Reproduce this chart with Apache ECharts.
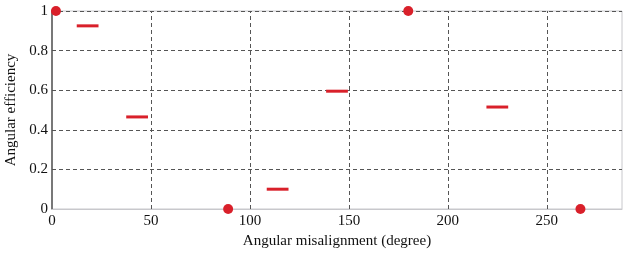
<!DOCTYPE html>
<html>
<head>
<meta charset="utf-8">
<script src="https://cdn.jsdelivr.net/npm/echarts@6/dist/echarts.min.js"></script>
<style>
  html, body { margin: 0; padding: 0; background: #fff; }
  #main { width: 634px; height: 257px; }
</style>
</head>
<body>
<div id="main"></div>
<script>
// dots (full or zero efficiency)
var dotX = [2, 89, 180, 267];
var dotY = [1, 0, 1, 0];
// short horizontal bars: start, end, value
var segStart = [12.5, 37.5, 108.5, 138.5, 219.5];
var segEnd = [23.5, 48.5, 119.5, 149.5, 230.5];
var segValue = [0.925, 0.465, 0.1, 0.595, 0.515];
// x grid lines
var xTicks = [50, 100, 150, 200, 250];

var red = '#d9202a';
var font = 'Liberation Serif';

var dots = dotX.map(function (x, i) { return [x, dotY[i]]; });
var segs = segStart.map(function (s, i) { return [s, segEnd[i], segValue[i]]; });

var myChart = echarts.init(document.getElementById('main'));
myChart.setOption({
  animation: false,
  grid: {
    left: 52, right: 12, top: 11, bottom: 48,
    outerBoundsMode: 'none', containLabel: false,
    show: true, borderColor: '#c8c8cc', borderWidth: 1
  },
  xAxis: {
    type: 'value', min: 0, max: 288, interval: 50,
    name: 'Angular misalignment (degree)',
    nameLocation: 'middle', nameGap: 25,
    nameTextStyle: { fontFamily: font, fontSize: 15, color: '#111' },
    axisLine: { show: true, lineStyle: { color: '#c8c8cc', width: 1 } },
    axisTick: { show: false },
    axisLabel: { showMaxLabel: false, fontFamily: font, fontSize: 15, color: '#111', margin: 5 },
    splitLine: { show: false }
  },
  yAxis: {
    type: 'value', min: 0, max: 1, interval: 0.2,
    name: 'Angular efficiency',
    nameLocation: 'middle', nameGap: 27,
    nameTextStyle: { fontFamily: font, fontSize: 15, color: '#111' },
    axisLine: { show: true, lineStyle: { color: '#555', width: 1.5 } },
    axisTick: { show: false },
    axisLabel: {
      fontFamily: font, fontSize: 15, color: '#111', margin: 4,
      formatter: function (v) { return String(Math.round(v * 10) / 10); }
    },
    splitLine: { show: true, lineStyle: { color: '#555', type: [4, 3], width: 1 } }
  },
  series: [
    {
      type: 'scatter',
      data: dots,
      symbol: 'circle',
      symbolSize: 10,
      itemStyle: { color: red, opacity: 1 },
      clip: false,
      z: 5,
      markLine: {
        silent: true,
        symbol: 'none',
        label: { show: false },
        lineStyle: { color: '#555', type: [4, 3], width: 1 },
        data: xTicks.map(function (t) { return { xAxis: t }; })
      }
    },
    {
      type: 'custom',
      data: segs,
      z: 4,
      renderItem: function (params, api) {
        var p1 = api.coord([api.value(0), api.value(2)]);
        var p2 = api.coord([api.value(1), api.value(2)]);
        return {
          type: 'line',
          shape: { x1: p1[0], y1: p1[1], x2: p2[0], y2: p2[1] },
          style: { stroke: red, lineWidth: 3 }
        };
      }
    }
  ]
});
</script>
</body>
</html>
